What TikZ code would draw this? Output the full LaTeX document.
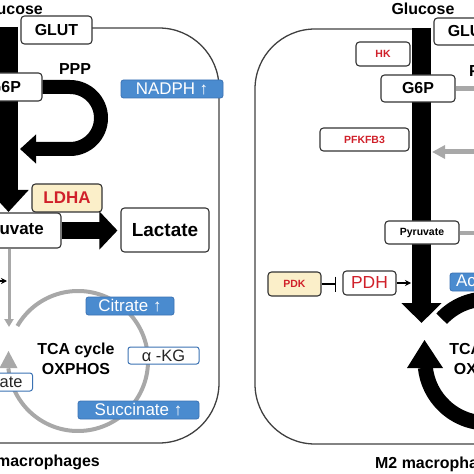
\documentclass[tikz,border=0pt]{standalone}
\usepackage{fontspec}
\setmainfont{Liberation Sans}
\usetikzlibrary{arrows.meta,calc}
\definecolor{blu}{HTML}{4A8BCF}
\definecolor{bluD}{HTML}{3B72B3}
\definecolor{redT}{HTML}{D0202A}
\definecolor{yel}{HTML}{FBEFC9}
\definecolor{gry}{HTML}{A8A8A8}
\pgfdeclarelayer{bg}
\pgfsetlayers{bg,main}
\newcommand\fsz[1]{\fontsize{#1}{#1}\selectfont}
\newcommand\fszb[2]{\fontsize{#1}{#2}\selectfont}
\begin{document}
\begin{tikzpicture}[x=1bp,y=-1bp,
  box/.style={draw=black!80, line width=1.1bp, rounded corners=3.5bp, fill=white, inner sep=0pt, align=center},
  bbox/.style={draw=bluD, line width=0.8bp, rounded corners=2.5bp, fill=blu, text=white, inner sep=0pt, font=\fsz{17}},
  wbox/.style={draw=bluD, line width=1bp, rounded corners=2.5bp, fill=white, text=black!85, inner sep=0pt, font=\fsz{16.5}},
  big/.style={font=\bfseries\fsz{16}},
  small/.style={font=\bfseries\fsz{10.5}, text=redT},
  mem/.style={draw=black!75, line width=1.3bp, rounded corners=60bp},
  lbl/.style={inner sep=0pt, font=\bfseries\fsz{16}},
  tcat/.style={inner sep=0pt, align=center, font=\bfseries\fszb{16}{20}}]
\useasboundingbox (0,0) rectangle (474,474);
\clip (0,0) rectangle (474,474);

% ---------- left panel nodes ----------
\node[lbl, anchor=east] (glucL) at (43,9) {Glucose};
\node[box, big, minimum width=71bp, minimum height=28bp] (glutL) at (56.5,30) {GLUT};
\node[box, big, minimum width=74bp, minimum height=28bp] (g6pL) at (5,87) {G6P};
\node[lbl] (pppL) at (75,69) {PPP};
\node[bbox, minimum width=102bp, minimum height=18bp] (nadph) at (172,89) {NADPH ↑};
\node[box, font=\bfseries\fsz{17}, text=redT, fill=yel, minimum width=70bp, minimum height=28bp] (ldha) at (67,198) {LDHA};
\node[box, font=\bfseries\fsz{17}, minimum width=106bp, minimum height=35bp] (pyrL) at (8,230.5) {Pyruvate};
\node[box, font=\bfseries\fsz{19}, minimum width=88bp, minimum height=44bp] (lactate) at (165,230) {Lactate};
\node[bbox, minimum width=88bp, minimum height=18bp] (citrate) at (130,306) {Citrate ↑};
\node[wbox, minimum width=71bp, minimum height=17bp] (akg) at (163.5,355.5) {α -KG};
\node[bbox, minimum width=121bp, minimum height=18bp] (succ) at (138.5,410) {Succinate ↑};
\node[wbox, inner xsep=10bp, minimum height=18bp, anchor=east] (fum) at (33,382) {Fumarate};
\node[tcat] (tcaL) at (76,359) {TCA cycle\\OXPHOS};
\node[lbl, anchor=east] (m1) at (100,462) {M1 macrophages};

% ---------- right panel nodes ----------
\node[lbl] (glucR) at (423,9) {Glucose};
\node[box, big, minimum width=71bp, minimum height=27bp] (glutR) at (469.5,31.5) {GLUT};
\node[box, small, minimum width=54bp, minimum height=24bp] (hk) at (383,54) {HK};
\node[box, big, minimum width=74bp, minimum height=27bp] (g6pR) at (418,88.5) {G6P};
\node[lbl, anchor=west] (pppR) at (469,71) {PPP};
\node[box, small, minimum width=89bp, minimum height=23bp] (pfk) at (364.5,139.5) {PFKFB3};
\node[box, font=\bfseries\fsz{10.5}, minimum width=74bp, minimum height=23bp] (pyrR) at (422,232.5) {Pyruvate};
\node[box, small, fill=yel, minimum width=53bp, minimum height=24bp] (pdk) at (294.5,284) {PDK};
\node[box, font=\fsz{17.5}, text=redT, minimum width=53bp, minimum height=24bp] (pdh) at (369.5,283) {PDH};
\node[bbox, minimum width=110bp, minimum height=18bp] (acR) at (505,282) {Acetyl-CoA ↑};
\node[tcat] (tcaR) at (488,359) {TCA cycle\\OXPHOS};
\node[lbl, anchor=west] (m2) at (375,464) {M2 macrophages};

\coordinate (cL) at (78,361);
\coordinate (cR) at (487,361);
\coordinate (acL) at (9,327);
\coordinate (pdhLs) at (-12,281);
\coordinate (pdhLe) at (7,281);
\coordinate (barR) at (411,283);
\coordinate (pppEnd) at (20,149);

% ---------- background ----------
\begin{pgfonlayer}{bg}
\draw[mem] (92,28) -- (219,28) -- (219,443) -- (-5,443);
\draw[mem] (412,29) -- (255,29) -- (255,444) -- (480,444);
% glycolysis bars
\draw[line width=19bp, -{Triangle[length=22bp 0 0, width=39bp 0 0]}] (8.5,27) -- (8.5,212);
\draw[line width=19bp, -{Triangle[length=20bp 0 0, width=39bp 0 0]}] (421.5,28) -- (421.5,323);
% TCA cycles
\draw[gry, line width=4bp] ($(cL)+(-150:70)$) arc[start angle=-150, end angle=174, radius=70];
\fill[gry] (-0.5,368) -- (17.5,368) -- (8.5,351) -- cycle;
\draw[line width=15bp] ($(cR)+(-137:62)$) arc[start angle=-137, end angle=174, radius=62];
\fill (407,368) -- (443,368) -- (424.5,340) -- cycle;
\end{pgfonlayer}

% ---------- connectors ----------
\draw[line width=14bp, -{Triangle[length=16bp 0 0, width=28bp 0 0]}] (g6pL.east) -- (70,87) arc[start angle=-90, end angle=90, radius=31] -- (pppEnd);
\draw[line width=16bp, -{Triangle[length=18bp 0 0, width=37bp 0 0]}, shorten >=3bp] (pyrL.east) -- (pyrL.east -| lactate.west);
\draw[gry, line width=3bp, -{Triangle[length=8bp 0 0, width=9bp 0 0]}] (pyrL.south -| acL) -- (acL);
\draw[line width=1.3bp, -{Stealth[length=6bp 0 0, width=6bp 0 0]}] (pdhLs) -- (pdhLe);
\draw[line width=1.5bp, -{Bar[width=15bp 0 0]}, shorten >=6bp] (pdk.east) -- (pdk.east -| pdh.west);
\draw[line width=1.3bp, -{Stealth[length=6bp 0 0, width=6bp 0 0]}] (pdh.east) -- (pdh.east -| barR);
\draw[gry, line width=5.5bp] (g6pR.east) -- (480,88.5);
\draw[gry, line width=5bp, -{Triangle[length=13bp 0 0, width=13bp 0 0]}] (480,152) -- (432,152);
\draw[gry, line width=4bp] (pyrR.east) -- (480,232.5);
\end{tikzpicture}
\end{document}
